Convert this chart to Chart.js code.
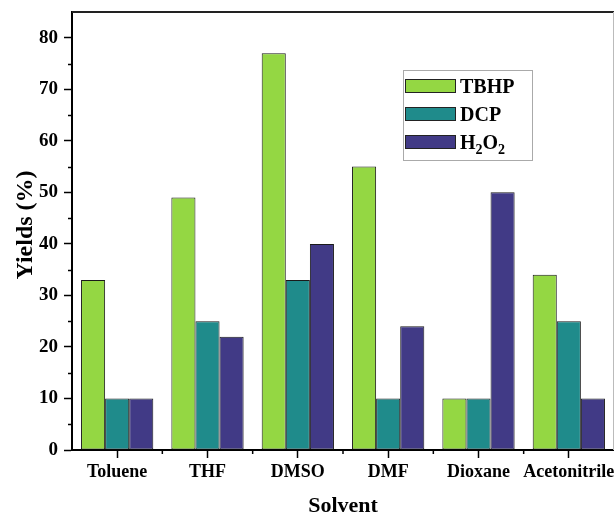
<!DOCTYPE html>
<html>
<head>
<meta charset="utf-8">
<script src="https://cdn.jsdelivr.net/npm/chart.js@4"></script>
<style>
    html, body { margin: 0; padding: 0; background: #fff; overflow: hidden; }
    #wrap { width: 614px; height: 517px; }
</style>
</head>
<body>
<div id="wrap"><canvas id="yieldChart" width="614" height="517"></canvas></div>
<script>
// Dữ liệu biểu đồ
const solvents = ["Toluene", "THF", "DMSO", "DMF", "Dioxane", "Acetonitrile"];
const tbhpYields = [33, 49, 77, 55, 10, 34];
const dcpYields = [10, 25, 33, 10, 10, 25];
const h2o2Yields = [10, 22, 40, 24, 50, 10];
const yTicks = [0, 10, 20, 30, 40, 50, 60, 70, 80];
const yMinorTicks = [5, 15, 25, 35, 45, 55, 65, 75];

const FONT = "'Liberation Serif', 'Times New Roman', serif";
const COLORS = { tbhp: "#94d743", dcp: "#1f8b8b", h2o2: "#413a86" };

/* ==========================
   PLUGIN: vạch phụ, khung, chú thích
========================== */
const framePlugin = {
    id: "frame",
    afterDraw(chart) {
        const { ctx, chartArea: a, scales: { x, y } } = chart;
        ctx.save();

        // Khung trên + phải
        ctx.strokeStyle = "#222";
        ctx.lineWidth = 2;
        ctx.beginPath();
        ctx.moveTo(a.left, a.top);
        ctx.lineTo(a.right, a.top);
        ctx.stroke();
        ctx.strokeStyle = "#bbb";
        ctx.lineWidth = 1;
        ctx.beginPath();
        ctx.moveTo(a.right - 0.5, a.top);
        ctx.lineTo(a.right - 0.5, a.bottom);
        ctx.stroke();

        // Vạch phụ trục Y
        ctx.strokeStyle = "#000";
        ctx.lineWidth = 1.5;
        yMinorTicks.forEach(v => {
            const py = Math.round(y.getPixelForValue(v)) + 0.5;
            ctx.beginPath();
            ctx.moveTo(a.left - 4, py);
            ctx.lineTo(a.left, py);
            ctx.stroke();
        });

        // Vạch phụ trục X (ranh giới giữa các nhóm)
        for (let i = 1; i < solvents.length; i++) {
            const px = (x.getPixelForValue(i - 1) + x.getPixelForValue(i)) / 2;
            ctx.beginPath();
            ctx.moveTo(px, a.bottom);
            ctx.lineTo(px, a.bottom + 4);
            ctx.stroke();
        }

        drawLegend(ctx);
        ctx.restore();
    }
};

function drawLegend(ctx) {
    const box = { x: 403, y: 70, w: 129, h: 90 };
    ctx.strokeStyle = "#aaa";
    ctx.lineWidth = 1;
    ctx.strokeRect(box.x + 0.5, box.y + 0.5, box.w, box.h);

    const items = [
        { color: COLORS.tbhp, parts: [["TBHP", 0]] },
        { color: COLORS.dcp, parts: [["DCP", 0]] },
        { color: COLORS.h2o2, parts: [["H", 0], ["2", 1], ["O", 0], ["2", 1]] }
    ];
    items.forEach((item, i) => {
        const top = 79 + i * 28;
        ctx.fillStyle = item.color;
        ctx.fillRect(405, top, 51, 14);
        ctx.strokeStyle = "#222";
        ctx.lineWidth = 1;
        ctx.strokeRect(405.5, top + 0.5, 50, 13);

        // Chữ (có chỉ số dưới cho H2O2)
        let tx = 460;
        ctx.fillStyle = "#000";
        ctx.textBaseline = "alphabetic";
        item.parts.forEach(([txt, sub]) => {
            ctx.font = `bold ${sub ? 14 : 20}px ${FONT}`;
            ctx.fillText(txt, tx, top + 14 + (sub ? 5 : 0));
            tx += ctx.measureText(txt).width;
        });
    });
}

/* ==========================
   VẼ BIỂU ĐỒ (Chart.js)
========================== */
function makeDataset(label, data, color) {
    return {
        label: label,
        data: data,
        backgroundColor: color,
        borderColor: "#1a1a1a",
        borderWidth: 1,
        borderSkipped: false,
        categoryPercentage: 0.8,
        barPercentage: 1.0
    };
}

const ctx = document.getElementById("yieldChart").getContext("2d");
new Chart(ctx, {
    type: "bar",
    data: {
        labels: solvents,
        datasets: [
            makeDataset("TBHP", tbhpYields, COLORS.tbhp),
            makeDataset("DCP", dcpYields, COLORS.dcp),
            makeDataset("H2O2", h2o2Yields, COLORS.h2o2)
        ]
    },
    options: {
        responsive: false,
        animation: false,
        layout: { padding: { top: 12, right: 0, left: 0, bottom: 0 } },
        plugins: { legend: { display: false }, tooltip: { enabled: false } },
        scales: {
            x: {
                grid: { offset: false, drawOnChartArea: false, tickLength: 8, tickColor: "#000", tickWidth: 1.5 },
                border: { color: "#000", width: 2 },
                ticks: { color: "#000", padding: 4, font: { family: FONT, size: 18, weight: "bold" }, maxRotation: 0, autoSkip: false },
                title: { display: true, text: "Solvent", color: "#000", padding: 0, font: { family: FONT, size: 22, weight: "bold", lineHeight: 1 } },
                afterFit(scale) {
                    scale.height = 67;
                    // nhãn cuối bị cắt như ảnh gốc, không chừa lề phải
                    scale.paddingLeft = 0;
                    scale.paddingRight = 0;
                }
            },
            y: {
                min: 0,
                max: 85,
                grid: { drawOnChartArea: false, tickLength: 8, tickColor: "#000", tickWidth: 1.5 },
                border: { color: "#000", width: 2 },
                afterBuildTicks(scale) { scale.ticks = yTicks.map(v => ({ value: v })); },
                ticks: { color: "#000", padding: 6, font: { family: FONT, size: 19, weight: "bold" } },
                title: { display: true, text: "  Yields (%)", color: "#000", padding: { top: 11 }, font: { family: FONT, size: 24, weight: "bold", lineHeight: 1.2 } },
                afterFit(scale) {
                    scale.width = 72;
                    scale.paddingTop = 0;
                    scale.paddingBottom = 0;
                }
            }
        }
    },
    plugins: [framePlugin]
});
</script>
</body>
</html>
